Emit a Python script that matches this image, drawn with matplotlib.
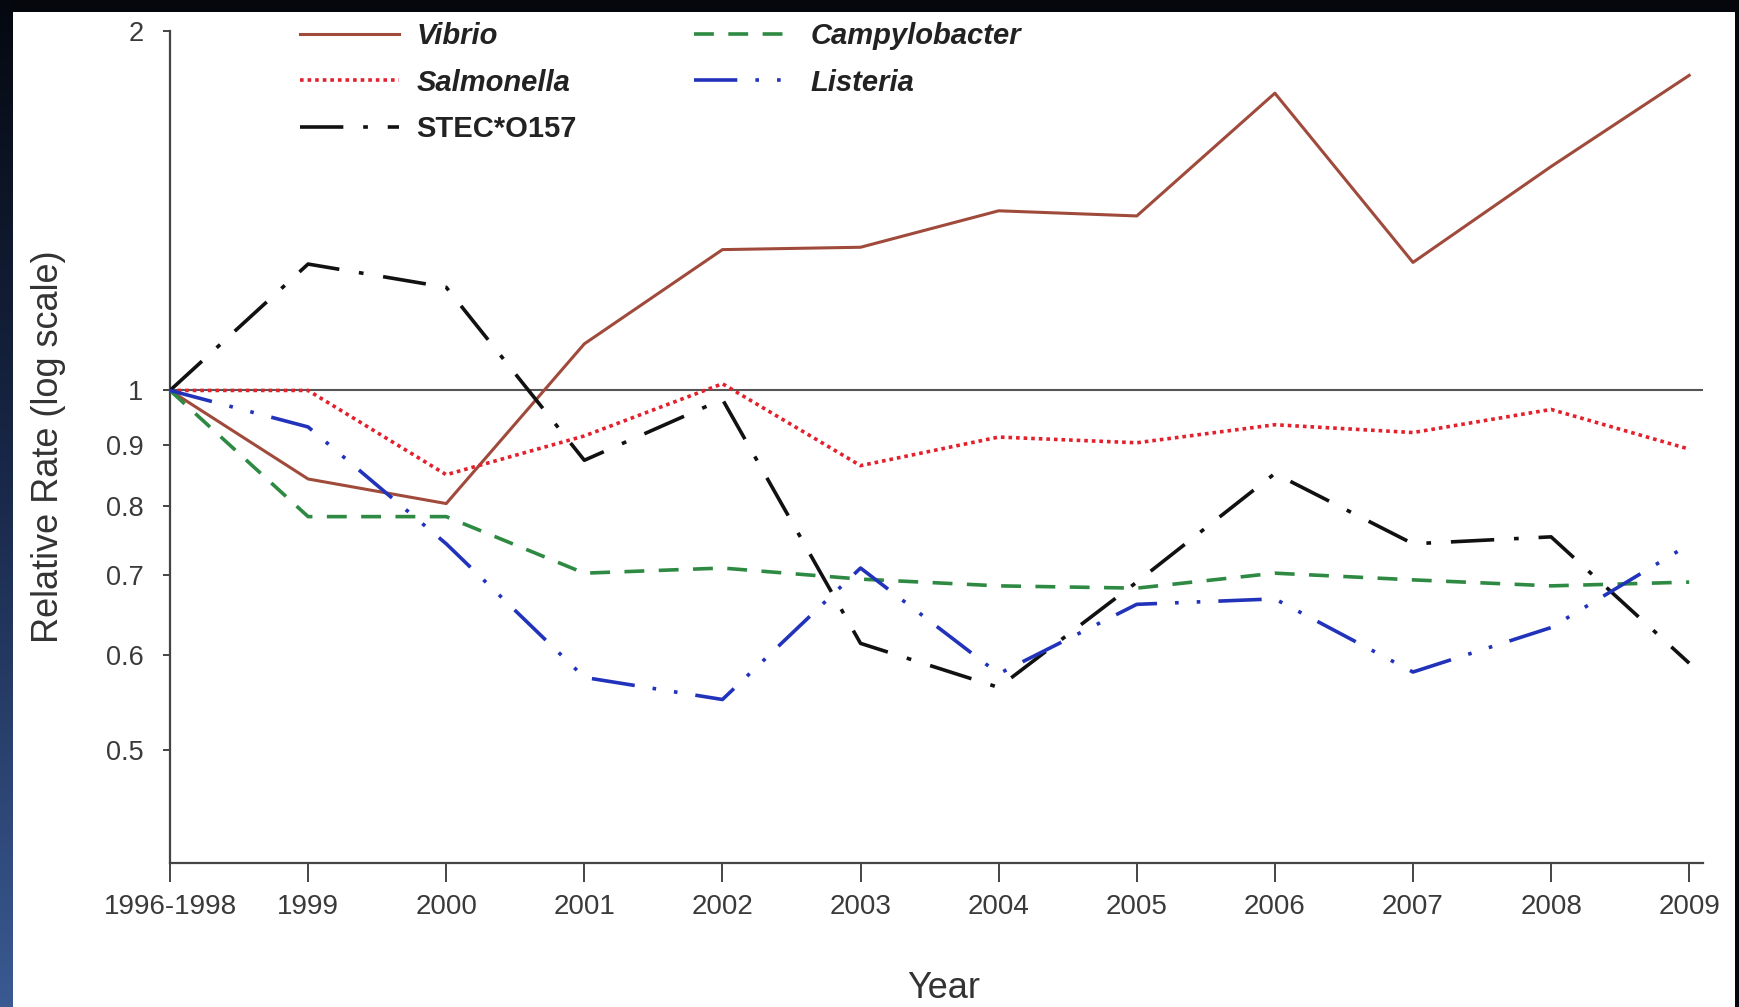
import numpy as np
import matplotlib.pyplot as plt
from matplotlib.patches import Rectangle
from matplotlib.ticker import NullLocator
from matplotlib.colors import LinearSegmentedColormap

plt.rcParams['font.family'] = ['Liberation Sans', 'DejaVu Sans']

years = ["1996-1998", "1999", "2000", "2001", "2002", "2003", "2004",
         "2005", "2006", "2007", "2008", "2009"]

vibrio = [1.0, 0.843, 0.804, 1.094, 1.312, 1.318, 1.414, 1.40, 1.774, 1.28, 1.54, 1.836]
salmonella = [1.0, 1.0, 0.85, 0.916, 1.013, 0.865, 0.914, 0.904, 0.936, 0.922, 0.964, 0.893]
stec = [1.0, 1.276, 1.22, 0.874, 0.983, 0.614, 0.564, 0.691, 0.852, 0.744, 0.754, 0.591]
campylobacter = [1.0, 0.784, 0.784, 0.703, 0.710, 0.695, 0.686, 0.683, 0.703, 0.694, 0.686, 0.691]
listeria = [1.0, 0.932, 0.744, 0.575, 0.551, 0.710, 0.579, 0.662, 0.669, 0.581, 0.633, 0.743]

ytick_vals = [0.5, 0.6, 0.7, 0.8, 0.9, 1, 2]
ytick_labels = ["0.5", "0.6", "0.7", "0.8", "0.9", "1", "2"]

fig = plt.figure(figsize=(17.4, 10.07), dpi=100)
fig.patch.set_facecolor('#05070d')

# white page inside a dark frame, gradient strip on the left
fig.patches.append(Rectangle((13 / 1740, 0), 1722 / 1740, 995 / 1007,
                             transform=fig.transFigure, facecolor='white',
                             edgecolor='none', zorder=-10))
strip = fig.add_axes([0, 0, 13 / 1740, 1])
grad = np.linspace(0, 1, 256).reshape(-1, 1)
strip.imshow(grad, aspect='auto', origin='upper',
             cmap=LinearSegmentedColormap.from_list('edge', ['#050810', '#1a2a4c', '#3a5a92']))
strip.axis('off')

ax = fig.add_axes([170 / 1740, 1 - 863 / 1007, 1533 / 1740, 832 / 1007])
ax.set_facecolor('none')
x = np.arange(len(years))

ax.axhline(1, color='#555555', lw=1.5, zorder=1)

ax.plot(x, vibrio, color='#a04a3c', lw=2.2, label='Vibrio', zorder=3)
ax.plot(x, salmonella, color='#e3202c', lw=2.6, linestyle=(0, (1, 1.1)),
        label='Salmonella', zorder=3)
ax.plot(x, stec, color='#111111', lw=2.6, linestyle=(0, (12, 5.5, 1.3, 5.5)),
        label='STEC*O157', zorder=3)
ax.plot(x, campylobacter, color='#2e8a42', lw=2.6, linestyle=(0, (5.5, 4)),
        label='Campylobacter', zorder=3)
ax.plot(x, listeria, color='#2233bb', lw=2.6, linestyle=(0, (12, 5, 1, 5, 1, 5)),
        label='Listeria', zorder=3)

ax.set_yscale('log')
ax.set_ylim(0.402, 2.0)
ax.set_xlim(0, 11.1)
ax.set_yticks(ytick_vals)
ax.set_yticklabels(ytick_labels)
ax.yaxis.set_minor_locator(NullLocator())
ax.set_xticks(x)
ax.set_xticklabels(years)

for s in ['top', 'right']:
    ax.spines[s].set_visible(False)
for s in ['left', 'bottom']:
    ax.spines[s].set_color('#444444')
    ax.spines[s].set_linewidth(1.6)

ax.tick_params(axis='x', length=14, width=1.4, color='#444444', pad=8,
               labelsize=20, labelcolor='#3a3a3a')
ax.tick_params(axis='y', length=5, width=1.4, color='#444444', pad=14,
               labelsize=19.5, labelcolor='#3a3a3a')

ax.set_xlabel('Year', fontsize=26, color='#333333')
ax.set_ylabel('Relative Rate (log scale)', fontsize=26, color='#333333')
ax.xaxis.set_label_coords(0.505, -0.13)
ax.yaxis.set_label_coords(-0.068, 0.5)

leg = ax.legend(loc='upper left', bbox_to_anchor=(300 / 1740, 1 - 22 / 1007),
                bbox_transform=fig.transFigure, ncol=2, frameon=False,
                borderpad=0, borderaxespad=0, handlelength=3.4,
                handletextpad=0.6, columnspacing=4.0, labelspacing=0.64,
                prop={'size': 21, 'weight': 'bold', 'style': 'italic'})
for t in leg.get_texts():
    t.set_color('#222222')
    if t.get_text().startswith('STEC'):
        t.set_fontstyle('normal')

plt.savefig("out.png", dpi=100, facecolor=fig.get_facecolor())
